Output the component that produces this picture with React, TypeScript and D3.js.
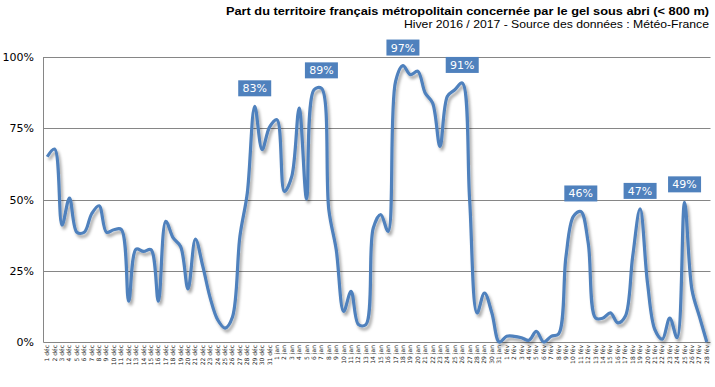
import React from "react";
import * as d3 from "d3";

// share of territory under frost, one value per day (%)
const decValues = [
  65, 67.7, 41, 50.5, 38.5, 38.5, 45, 47.8, 38.5, 39.4, 39.5, 14.3, 32.6, 31.8, 32.4, 14.3,
  42.3, 36.5, 33.5, 18.6, 36.1, 26.5, 15.4, 7.8, 4.9, 8.8, 37, 52.3, 82.7, 67.5, 75.4,
];
const janValues = [
  78, 52.8, 58.1, 82.1, 50.2, 88.5, 89, 46.4, 32.4, 10.7, 17.8, 6.1, 6.1, 40, 44.7, 38.8,
  91.4, 97, 93.8, 95, 87.4, 83.9, 68.6, 86.2, 88.5, 90.9, 49.9, 10.2, 17.2, 10.2, 0,
];
const febValues = [
  2, 2, 1.5, 0.6, 3.7, 0, 2, 2.8, 30, 44.1, 45.8, 34.7, 8.4, 8.4, 10.2, 6.7, 9, 30, 46.7,
  20.7, 4.3, 1, 8.4, 1.5, 49, 18.3, 9, 0,
];

const months = ["déc", "jan", "fév"];
const yTicks = [0, 25, 50, 75, 100];
// days that get a value box
const labelledDays = ["29 déc", "7 jan", "18 jan", "26 jan", "11 fév", "19 fév", "25 fév"];

const title = "Part du territoire français métropolitain concernée par le gel sous abri (< 800 m)";
const subtitle = "Hiver 2016 / 2017 - Source des données : Météo-France";

const values = [...decValues, ...janValues, ...febValues];
const dayLabels = [decValues, janValues, febValues].flatMap((arr, m) =>
  arr.map((_, i) => `${i + 1} ${months[m]}`)
);
const data = dayLabels.map((day, i) => ({ day, value: values[i] }));

const W = 715;
const H = 387;
const left = 43.5;
const right = 710.5;
const top = 57;
const bottom = 342;
const blue = "#4F81BD";
const font = "'DejaVu Sans', Verdana, sans-serif";
const titleFont = "'Liberation Sans', Arial, sans-serif";

const App = () => {
  const x = d3.scaleBand<string>().domain(dayLabels).range([left, right]);
  const y = d3.scaleLinear().domain([0, 100]).range([bottom, top]);
  const cx = (d: string) => (x(d) || 0) + x.bandwidth() / 2;

  const line = d3
    .line<{ day: string; value: number }>()
    .x((d) => cx(d.day))
    .y((d) => y(d.value))
    .curve(d3.curveCatmullRom.alpha(0.5));

  return (
    <svg
      width={W}
      height={H}
      style={{ position: "absolute", left: 0, top: 0, background: "#fff" }}
      fontFamily={font}
    >
      <defs>
        <filter id="shadow" x="-5%" y="-5%" width="110%" height="115%">
          <feDropShadow dx="2" dy="3" stdDeviation="1.5" floodColor="#000" floodOpacity="0.35" />
        </filter>
      </defs>
      <rect width={W} height={H} fill="#fff" />

      {/* titles */}
      <text x={709} y={15} textAnchor="end" fontFamily={titleFont} fontSize={11.5} fontWeight="bold" textLength={483} lengthAdjust="spacingAndGlyphs">
        {title}
      </text>
      <text x={709} y={28} textAnchor="end" fontFamily={titleFont} fontSize={11.5} textLength={305} lengthAdjust="spacingAndGlyphs">
        {subtitle}
      </text>

      {/* grid + y axis */}
      {yTicks.map((t) => (
        <g key={t}>
          <line x1={left} x2={right} y1={Math.round(y(t)) + 0.5} y2={Math.round(y(t)) + 0.5} stroke="#868686" strokeWidth={1} />
          <text x={34} y={y(t) + 4} textAnchor="end" fontSize={11} fill="#000">
            {t}%
          </text>
        </g>
      ))}
      <line x1={left} x2={left} y1={top} y2={bottom + 0.5} stroke="#868686" />

      {/* x labels */}
      {dayLabels.map((d) => (
        <text
          key={d}
          transform={`translate(${cx(d) + 2},${bottom + 3}) rotate(-90)`}
          textAnchor="end"
          fontSize={6}
          fill="#222"
        >
          {d}
        </text>
      ))}

      {/* series */}
      <path d={line(data) || ""} fill="none" stroke={blue} strokeWidth={3.2} strokeLinejoin="round" filter="url(#shadow)" />

      {/* value boxes */}
      {data
        .filter((d) => labelledDays.includes(d.day))
        .map((d) => {
          const px = cx(d.day);
          const py = y(d.value) - 18;
          return (
            <g key={d.day}>
              <rect x={px - 16.5} y={py - 8} width={33} height={16} fill={blue} />
              <text x={px} y={py + 4} textAnchor="middle" fontSize={11} fill="#fff">
                {Math.round(d.value)}%
              </text>
            </g>
          );
        })}
    </svg>
  );
};

export default App;
